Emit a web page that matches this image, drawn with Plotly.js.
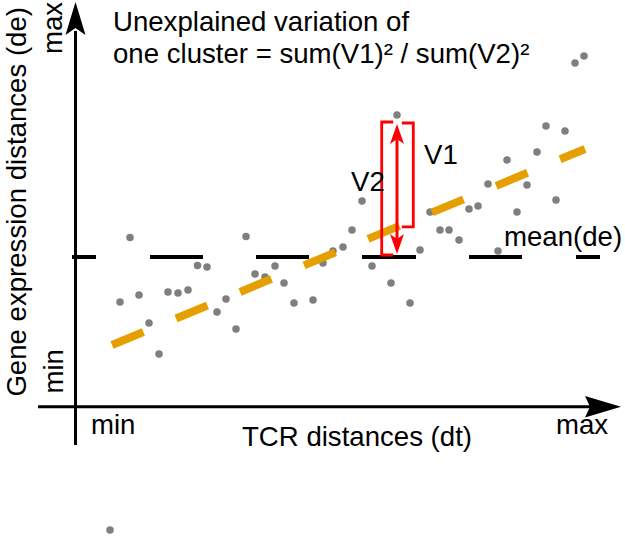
<!DOCTYPE html>
<html>
<head>
<meta charset="utf-8">
<script src="https://cdn.plot.ly/plotly-3.0.1.min.js"></script>
<style>html,body{margin:0;padding:0;background:#fff;}#chart{width:625px;height:536px;}</style>
</head>
<body>
<div id="chart"></div>
<script>
// Data (dt = TCR distance, de = gene expression distance)
const dtValues = [54, 44, 63, 73, 83, 92, 102, 112, 121.5, 131, 141, 150, 160, 170, 179, 189, 199, 208, 218, 237,
  247, 257, 267, 276, 286, 296, 315, 321, 334, 344, 354, 364, 373, 383, 393, 402, 412, 422, 431, 441,
  451, 461, 470, 480, 489, 499, 508, 34];
const deValues = [169.5, 105, 112, 84, 53, 115, 114, 117, 141.5, 140, 95, 108, 78, 170.5, 133, 130, 141, 124, 104, 107,
  144, 156, 160, 177, 206, 141, 124, 292, 104, 157, 195, 177, 177, 167, 198, 201, 223, 156, 247, 195,
  222, 255, 281, 207, 276, 344, 351, -123];
const regressionX = [36, 509];
const regressionY = [62, 258];
const meanDe = 150;
const meanX = [-4, 524];
const highlightIndex = 27;
const titleLines = ["Unexplained variation of", "one cluster = sum(V1)\u00b2 / sum(V2)\u00b2"];
const xAxisTitle = "TCR distances (dt)";
const yAxisTitle = "Gene expression distances (de)";
const tickMin = "min", tickMax = "max";

// ---- drawing ----
const FONT = '"Liberation Sans", Arial, sans-serif';
const FS = 27.6;
const RED = '#ff0000';

function regAt(x) {
  const s = (regressionY[1] - regressionY[0]) / (regressionX[1] - regressionX[0]);
  return regressionY[0] + s * (x - regressionX[0]);
}
function arrowHead(tx, ty, ux, uy, len, half, notch) {
  const bx = tx - ux * len, by = ty - uy * len;
  const px = -uy, py = ux;
  const nx = tx - ux * notch, ny = ty - uy * notch;
  return `M${tx},${ty} L${bx + px * half},${by + py * half} L${nx},${ny} L${bx - px * half},${by - py * half} Z`;
}

const hx = dtValues[highlightIndex], hy = deValues[highlightIndex];
const regH = regAt(hx);

const traces = [
  { x: meanX, y: [meanDe, meanDe], mode: 'lines', hoverinfo: 'skip',
    line: { color: '#000', width: 4, dash: '24px,54px,53px,53px,53px,53px,54px,53px,53px,54px,24px' } },
  { x: dtValues, y: deValues, mode: 'markers', hoverinfo: 'skip',
    marker: { color: '#7f7f7f', size: 7.5, line: { width: 0 } } },
  { x: regressionX, y: regressionY, mode: 'lines', hoverinfo: 'skip',
    line: { color: '#e69f00', width: 8, dash: '34px,35.3px' } }
];

// axes geometry
const axX = -0.5, axY = 0.3;
const shapes = [
  { type: 'line', xref: 'x', yref: 'y', x0: axX, x1: axX, y0: -38, y1: 376, line: { color: '#000', width: 3 } },
  { type: 'line', xref: 'x', yref: 'y', x0: -38, x1: 516, y0: axY, y1: axY, line: { color: '#000', width: 3 } },
  { type: 'path', xref: 'x', yref: 'y', path: arrowHead(axX, 405, 0, 1, 33, 10, 26), fillcolor: '#000', line: { width: 0 } },
  { type: 'path', xref: 'x', yref: 'y', path: arrowHead(545, axY, 1, 0, 36, 10.7, 31), fillcolor: '#000', line: { width: 0 } },
];
// V2 bracket (point to mean), V1 bracket (point to regression)
const top2 = hy - 7, top1 = hy - 8;
const xL = hx - 15.3, xR = hx + 16.3, tick = 11.5;
shapes.push({ type: 'path', xref: 'x', yref: 'y',
  path: `M${xL + tick},${top2} L${xL},${top2} L${xL},${meanDe + 2} L${xL + tick},${meanDe + 2}`,
  line: { color: RED, width: 2.8 } });
shapes.push({ type: 'path', xref: 'x', yref: 'y',
  path: `M${xR - tick},${top1} L${xR},${top1} L${xR},${regH} L${xR - tick},${regH}`,
  line: { color: RED, width: 2.8 } });
// double-headed arrow
const aTop = hy - 9, aBot = meanDe + 3;
shapes.push({ type: 'line', xref: 'x', yref: 'y', x0: hx, x1: hx, y0: aTop - 14, y1: aBot + 14, line: { color: RED, width: 3 } });
shapes.push({ type: 'path', xref: 'x', yref: 'y', path: arrowHead(hx, aTop, 0, 1, 20, 7, 15), fillcolor: RED, line: { width: 0 } });
shapes.push({ type: 'path', xref: 'x', yref: 'y', path: arrowHead(hx, aBot, 0, -1, 20, 7, 15), fillcolor: RED, line: { width: 0 } });

function txt(text, x, y, opts) {
  return Object.assign({ text: text, x: x, y: y, xref: 'x', yref: 'y', showarrow: false,
    xanchor: 'left', yanchor: 'middle', font: { family: FONT, size: FS, color: '#000' } }, opts || {});
}
const annotations = [
  txt(titleLines[0], 35, 386),
  txt(titleLines[1], 35, 354),
  txt('V1', 346, 253),
  txt('V2', 273, 226),
  txt('mean(de)', 426, 171),
  txt(tickMin, 13, -17),
  txt(tickMax, 478, -17),
  txt(xAxisTitle, 281, -29, { xanchor: 'center' }),
  txt(tickMax, -23.4, 378.5, { xanchor: 'center', textangle: -90 }),
  txt(tickMin, -23.4, 35, { xanchor: 'center', textangle: -90 }),
  txt(yAxisTitle, -60.4, 205, { xanchor: 'center', textangle: -90 }),
];

const layout = {
  width: 625, height: 536,
  margin: { l: 0, r: 0, t: 0, b: 0, pad: 0 },
  paper_bgcolor: '#fff', plot_bgcolor: '#fff',
  showlegend: false,
  font: { family: FONT, size: FS, color: '#000' },
  xaxis: { range: [-76, 549], visible: false, fixedrange: true },
  yaxis: { range: [-129, 407], visible: false, fixedrange: true },
  shapes: shapes,
  annotations: annotations
};
Plotly.newPlot('chart', traces, layout, { displayModeBar: false, staticPlot: true });
</script>
</body>
</html>
